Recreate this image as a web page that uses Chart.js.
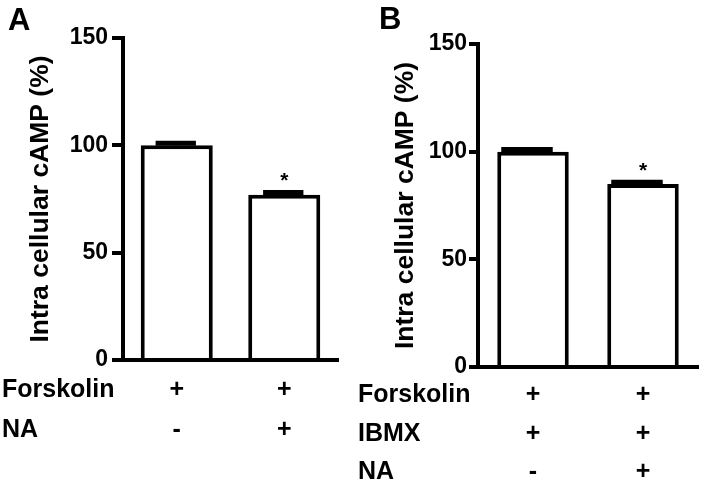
<!DOCTYPE html>
<html><head><meta charset="utf-8">
<script src="https://cdn.jsdelivr.net/npm/chart.js@4/dist/chart.umd.min.js"></script>
<style>
html,body{margin:0;padding:0;background:#fff;}
#wrap{position:relative;width:701px;height:484px;overflow:hidden;}
.panel{position:absolute;top:0;height:484px;}
canvas{display:block;}
</style></head><body>
<div id="wrap">
<div class="panel" style="left:0;width:350px"><canvas id="cA" width="350" height="484"></canvas></div>
<div class="panel" style="left:350px;width:351px"><canvas id="cB" width="351" height="484"></canvas></div>
</div>
<script>
// ---- data ----
const yTitle = 'Intra cellular cAMP (%)';
const yMin = 0, yMax = 150, yStep = 50;

const letterA = 'A';
const rowLabelsA = ['Forskolin', 'NA'];
const tickLabelsA = [['+', '-'], ['+', '+']];
const valuesA = [100, 77];
const errorsA = [1.0, 1.0];
const marksA = ['', '*'];

const letterB = 'B';
const rowLabelsB = ['Forskolin', 'IBMX', 'NA'];
const tickLabelsB = [['+', '+', '-'], ['+', '+', '+']];
const valuesB = [100, 85];
const errorsB = [1.0, 0.8];
const marksB = ['', '*'];

const FAM = "'Liberation Sans', Arial, Helvetica, sans-serif";
const LABEL_SIZE = 25;

function extrasPlugin(o) {
  return {
    id: 'extras',
    afterDatasetsDraw(chart) {
      const ctx = chart.ctx;
      const meta = chart.getDatasetMeta(0);
      const ys = chart.scales.y, xs = chart.scales.x;
      ctx.save();
      ctx.strokeStyle = '#000';
      ctx.fillStyle = '#000';
      ctx.lineWidth = 5;
      meta.data.forEach((bar, i) => {
        const v = o.values[i], e = o.errors[i];
        const yv = ys.getPixelForValue(v);
        const yt = ys.getPixelForValue(v + e);
        const cx = bar.x + o.capShift;
        const hw = bar.width * o.capFrac;
        ctx.beginPath(); ctx.moveTo(cx, yv); ctx.lineTo(cx, yt); ctx.stroke();
        ctx.beginPath(); ctx.moveTo(cx - hw, yt); ctx.lineTo(cx + hw, yt); ctx.stroke();
        if (o.marks[i]) {
          ctx.font = 'bold 21px ' + FAM;
          ctx.textAlign = 'center';
          ctx.textBaseline = 'middle';
          ctx.fillText(o.marks[i], bar.x, yt - 11);
        }
      });
      ctx.font = 'bold ' + LABEL_SIZE + 'px ' + FAM;
      ctx.textAlign = 'left';
      ctx.textBaseline = 'middle';
      o.rows.forEach((r, i) => {
        ctx.fillText(r, o.rowX, xs.top + o.tickPad + o.lineHeight * (i + 0.5));
      });
      ctx.font = 'bold 31px ' + FAM;
      ctx.textBaseline = 'alphabetic';
      ctx.fillText(o.letter, o.letterX, o.letterY);
      ctx.restore();
    }
  };
}

function makeChart(id, o) {
  return new Chart(document.getElementById(id), {
    type: 'bar',
    data: {
      labels: o.labels,
      datasets: [{
        data: o.values,
        backgroundColor: '#fff',
        borderColor: '#000',
        borderWidth: 4,
        barPercentage: o.barPct,
        categoryPercentage: 1
      }]
    },
    options: {
      responsive: false,
      animation: false,
      layout: { padding: { left: 0, right: o.padRight, top: o.padTop, bottom: 0 } },
      plugins: { legend: { display: false }, tooltip: { enabled: false } },
      scales: {
        x: {
          grid: { display: false, drawTicks: false, tickLength: 0 },
          border: { display: true, color: '#000', width: 4 },
          ticks: {
            color: '#000', autoSkip: false, maxRotation: 0,
            font: { family: FAM, size: LABEL_SIZE, weight: 'bold', lineHeight: o.lineHeight / LABEL_SIZE },
            padding: o.tickPad
          },
          afterFit(s) { s.height = o.xHeight; }
        },
        y: {
          min: yMin, max: yMax,
          ticks: {
            stepSize: yStep, color: '#000', padding: o.yTickPad,
            font: { family: FAM, size: 23, weight: 'bold' }
          },
          grid: { display: true, drawOnChartArea: false, drawTicks: true, tickLength: o.yTickLen, color: '#000', lineWidth: 4 },
          border: { display: true, color: '#000', width: 4 },
          title: {
            display: true, text: yTitle, color: '#000',
            font: { family: FAM, size: 26.5, weight: 'bold' },
            padding: { top: o.titlePad, bottom: 0 }
          },
          afterFit(s) { s.width = o.yWidth; }
        }
      }
    },
    plugins: [extrasPlugin(o)]
  });
}

makeChart('cA', {
  labels: tickLabelsA, values: valuesA, errors: errorsA, marks: marksA,
  rows: rowLabelsA, letter: letterA,
  barPct: 0.67, padRight: 12, padTop: 38, xHeight: 124, yWidth: 123,
  lineHeight: 40, tickPad: 10, yTickPad: 4, yTickLen: 11, titlePad: 25,
  capFrac: 0.28, capShift: -1, rowX: 2, letterX: 8, letterY: 30
});
makeChart('cB', {
  labels: tickLabelsB, values: valuesB, errors: errorsB, marks: marksB,
  rows: rowLabelsB, letter: letterB,
  barPct: 0.65, padRight: 3, padTop: 44, xHeight: 117, yWidth: 128,
  lineHeight: 38.5, tickPad: 9, yTickPad: 2, yTickLen: 9, titlePad: 40,
  capFrac: 0.36, capShift: -6, rowX: 8, letterX: 29, letterY: 29
});
</script>
</body></html>
